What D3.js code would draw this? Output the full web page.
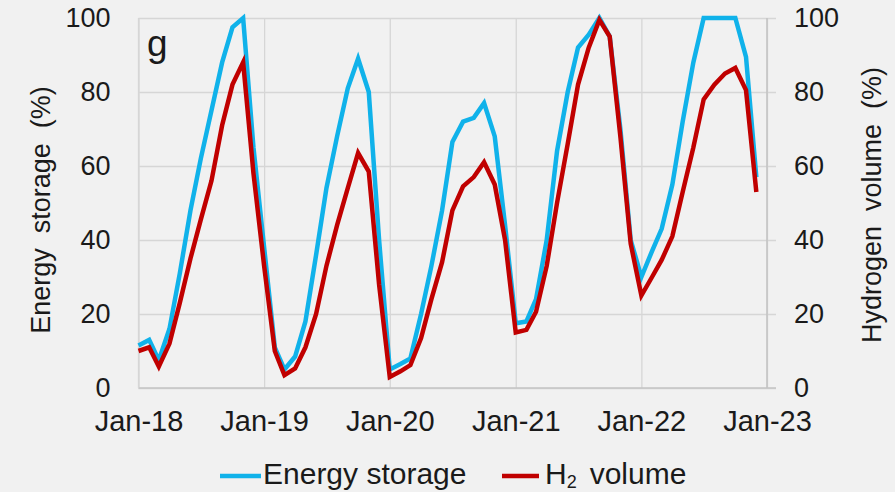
<!DOCTYPE html>
<html>
<head>
<meta charset="utf-8">
<script src="https://cdnjs.cloudflare.com/ajax/libs/d3/7.8.5/d3.min.js"></script>
<style>
  html, body { margin: 0; padding: 0; background: #f1f1f1; }
  svg { display: block; font-family: "Liberation Sans", Arial, sans-serif; }
</style>
</head>
<body>
<div id="chart"></div>
<script>

/* - - - data - - - */

var startMonth = new Date(2018, 0, 1);
var months = d3.timeMonth.range(startMonth, new Date(2023, 0, 1)); // Jan-18 .. Dec-22

var energyStorage = [
  11.5, 13, 7.5, 16, 31, 48, 62, 75, 88, 97.5, 100, 65,   // 2018
  38, 11, 5, 8.5, 18, 36, 54, 68, 81, 89, 80, 40,         // 2019
  5, 6.5, 8, 20, 33, 48, 66.5, 72, 73, 77, 68, 44,        // 2020
  17.5, 18, 24, 40, 64, 80, 92, 95.5, 100, 95, 70, 40,    // 2021
  30, 37, 43, 55, 72, 88, 100, 100, 100, 100, 89.5, 57    // 2022
];

var h2Volume = [
  10, 11, 5.8, 12, 23, 35, 45.5, 56, 71, 82, 88, 58,
  33, 10, 3.5, 5.3, 11, 20, 33, 44, 54, 63.5, 58.5, 28,
  3, 4.5, 6.2, 13.5, 24, 34, 48, 54.5, 57, 61, 55, 40,
  15, 15.7, 20.6, 33, 50, 66, 82, 92, 99.5, 95, 68, 39,
  25, 30, 34.6, 41, 53, 65, 78, 82, 85, 86.5, 80.5, 53
];

var yearTicks = [2018, 2019, 2020, 2021, 2022, 2023];
var yearLabels = ["Jan-18", "Jan-19", "Jan-20", "Jan-21", "Jan-22", "Jan-23"];
var valueTicks = [0, 20, 40, 60, 80, 100];

/* - - - svg - - - */

var width = 895, height = 492;
var margin = {top: 18, right: 128, bottom: 104, left: 138.5};

var svg = d3.select('#chart')
  .append('svg')
  .attr('width', width)
  .attr('height', height);

svg.append('rect')
  .attr('width', width)
  .attr('height', height)
  .attr('fill', '#f1f1f1');

var x = d3.scaleTime()
  .domain([new Date(2018, 0, 1), new Date(2023, 0, 1)])
  .range([margin.left, width - margin.right]);

var y = d3.scaleLinear()
  .domain([0, 100])
  .range([height - margin.bottom, margin.top]);

var tickDates = yearTicks.map(function (yr) { return new Date(yr, 0, 1); });

// horizontal grid, runs a little past the right axis
svg.append('g')
  .attr('transform', 'translate(' + margin.left + ',0)')
  .call(d3.axisRight(y)
    .tickValues(valueTicks)
    .tickSize(x.range()[1] - margin.left + 9)
    .tickFormat(''))
  .call(function (g) { g.select('.domain').remove(); })
  .selectAll('line')
  .attr('stroke', '#d6d6d6')
  .attr('stroke-width', 1.3);

// vertical grid at each year
svg.append('g')
  .attr('transform', 'translate(0,' + margin.top + ')')
  .call(d3.axisBottom(x)
    .tickValues(tickDates)
    .tickSize(y.range()[0] - margin.top)
    .tickFormat(''))
  .call(function (g) { g.select('.domain').remove(); })
  .selectAll('line')
  .attr('stroke', '#d6d6d6')
  .attr('stroke-width', 1.3);

// axis lines
svg.append('line')
  .attr('x1', x.range()[0]).attr('x2', x.range()[1] + 9)
  .attr('y1', y(0)).attr('y2', y(0))
  .attr('stroke', '#c4c4c4').attr('stroke-width', 1.6);
svg.append('line')
  .attr('x1', x.range()[1]).attr('x2', x.range()[1])
  .attr('y1', y(0)).attr('y2', y(100))
  .attr('stroke', '#c4c4c4').attr('stroke-width', 1.6);
svg.append('line')
  .attr('x1', x.range()[0]).attr('x2', x.range()[0])
  .attr('y1', y(0)).attr('y2', y(100))
  .attr('stroke', '#d6d6d6').attr('stroke-width', 1.3);

// tick labels
var xAxis = svg.append('g')
  .attr('transform', 'translate(0,' + y(0) + ')')
  .call(d3.axisBottom(x)
    .tickValues(tickDates)
    .tickSize(0)
    .tickPadding(22)
    .tickFormat(function (d, i) { return yearLabels[i]; }));
xAxis.select('.domain').remove();
xAxis.selectAll('text')
  .attr('font-size', 29)
  .attr('fill', '#1a1a1a')
  .attr('font-family', '"Liberation Sans", Arial, sans-serif');

var yLeft = svg.append('g')
  .attr('transform', 'translate(' + margin.left + ',0)')
  .call(d3.axisLeft(y).tickValues(valueTicks).tickSize(0).tickPadding(28));
yLeft.select('.domain').remove();
yLeft.selectAll('text')
  .attr('font-size', 27)
  .attr('fill', '#1a1a1a')
  .attr('font-family', '"Liberation Sans", Arial, sans-serif');

var yRight = svg.append('g')
  .attr('transform', 'translate(' + x.range()[1] + ',0)')
  .call(d3.axisRight(y).tickValues(valueTicks).tickSize(0).tickPadding(27));
yRight.select('.domain').remove();
yRight.selectAll('text')
  .attr('font-size', 27)
  .attr('fill', '#1a1a1a')
  .attr('font-family', '"Liberation Sans", Arial, sans-serif');

// axis titles
svg.append('text')
  .attr('transform', 'translate(50,' + 210 + ') rotate(-90)')
  .attr('text-anchor', 'middle')
  .attr('font-size', 27)
  .attr('fill', '#1a1a1a')
  .attr('xml:space', 'preserve')
  .text('Energy  storage  (%)');

svg.append('text')
  .attr('transform', 'translate(881,' + 205 + ') rotate(-90)')
  .attr('text-anchor', 'middle')
  .attr('font-size', 27)
  .attr('fill', '#1a1a1a')
  .attr('xml:space', 'preserve')
  .text('Hydrogen  volume  (%)');

// panel letter
svg.append('text')
  .attr('x', 147)
  .attr('y', 56)
  .attr('font-size', 37)
  .attr('fill', '#1a1a1a')
  .text('g');

/* - - - lines - - - */

function drawLine(values, color) {
  var line = d3.line()
    .x(function (d, i) { return x(months[i]); })
    .y(function (d) { return y(d); });
  svg.append('path')
    .datum(values)
    .attr('d', line)
    .attr('fill', 'none')
    .attr('stroke', color)
    .attr('stroke-width', 4.5)
    .attr('stroke-linejoin', 'miter');
}

drawLine(energyStorage, '#10b2ea');
drawLine(h2Volume, '#c00000');

/* - - - legend - - - */

var legendY = 476;
svg.append('line')
  .attr('x1', 220).attr('x2', 261)
  .attr('y1', legendY).attr('y2', legendY)
  .attr('stroke', '#10b2ea').attr('stroke-width', 4.5);
svg.append('text')
  .attr('x', 263).attr('y', 484)
  .attr('font-size', 30).attr('fill', '#1a1a1a')
  .text('Energy storage');

svg.append('line')
  .attr('x1', 502).attr('x2', 539)
  .attr('y1', legendY).attr('y2', legendY)
  .attr('stroke', '#c00000').attr('stroke-width', 4.5);
var h2 = svg.append('text')
  .attr('x', 545).attr('y', 484)
  .attr('font-size', 30).attr('fill', '#1a1a1a');
h2.append('tspan').text('H');
h2.append('tspan').attr('font-size', 18).attr('dy', 4).text('2');
h2.append('tspan').attr('dy', -4).attr('dx', 13).text('volume');

</script>
</body>
</html>
